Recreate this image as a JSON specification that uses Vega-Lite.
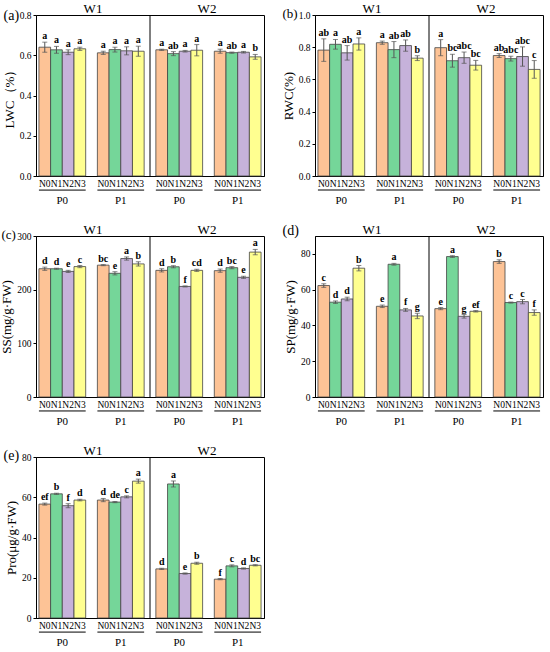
{
  "$schema": "https://vega.github.io/schema/vega-lite/v6.json",
  "padding": {"left": 0, "top": 1, "right": 4, "bottom": 4},
  "datasets": {
    "vals": [
      {"v": "LWC", "W": "W1", "P": "P0", "N": "N0", "m": 0.640, "sd": 0.025, "sig": "a"},
      {"v": "LWC", "W": "W1", "P": "P0", "N": "N1", "m": 0.627, "sd": 0.017, "sig": "a"},
      {"v": "LWC", "W": "W1", "P": "P0", "N": "N2", "m": 0.615, "sd": 0.012, "sig": "a"},
      {"v": "LWC", "W": "W1", "P": "P0", "N": "N3", "m": 0.632, "sd": 0.008, "sig": "a"},
      {"v": "LWC", "W": "W1", "P": "P1", "N": "N0", "m": 0.612, "sd": 0.008, "sig": "a"},
      {"v": "LWC", "W": "W1", "P": "P1", "N": "N1", "m": 0.628, "sd": 0.012, "sig": "a"},
      {"v": "LWC", "W": "W1", "P": "P1", "N": "N2", "m": 0.622, "sd": 0.020, "sig": "a"},
      {"v": "LWC", "W": "W1", "P": "P1", "N": "N3", "m": 0.620, "sd": 0.025, "sig": "a"},
      {"v": "LWC", "W": "W2", "P": "P0", "N": "N0", "m": 0.627, "sd": 0.003, "sig": "a"},
      {"v": "LWC", "W": "W2", "P": "P0", "N": "N1", "m": 0.608, "sd": 0.010, "sig": "ab"},
      {"v": "LWC", "W": "W2", "P": "P0", "N": "N2", "m": 0.620, "sd": 0.004, "sig": "a"},
      {"v": "LWC", "W": "W2", "P": "P0", "N": "N3", "m": 0.625, "sd": 0.028, "sig": "a"},
      {"v": "LWC", "W": "W2", "P": "P1", "N": "N0", "m": 0.620, "sd": 0.010, "sig": "a"},
      {"v": "LWC", "W": "W2", "P": "P1", "N": "N1", "m": 0.613, "sd": 0.003, "sig": "ab"},
      {"v": "LWC", "W": "W2", "P": "P1", "N": "N2", "m": 0.615, "sd": 0.004, "sig": "a"},
      {"v": "LWC", "W": "W2", "P": "P1", "N": "N3", "m": 0.592, "sd": 0.012, "sig": "b"},
      {"v": "RWC", "W": "W1", "P": "P0", "N": "N0", "m": 0.782, "sd": 0.070, "sig": "ab"},
      {"v": "RWC", "W": "W1", "P": "P0", "N": "N1", "m": 0.818, "sd": 0.030, "sig": "a"},
      {"v": "RWC", "W": "W1", "P": "P0", "N": "N2", "m": 0.765, "sd": 0.045, "sig": "ab"},
      {"v": "RWC", "W": "W1", "P": "P0", "N": "N3", "m": 0.820, "sd": 0.038, "sig": "a"},
      {"v": "RWC", "W": "W1", "P": "P1", "N": "N0", "m": 0.828, "sd": 0.010, "sig": "a"},
      {"v": "RWC", "W": "W1", "P": "P1", "N": "N1", "m": 0.785, "sd": 0.050, "sig": "ab"},
      {"v": "RWC", "W": "W1", "P": "P1", "N": "N2", "m": 0.810, "sd": 0.035, "sig": "ab"},
      {"v": "RWC", "W": "W1", "P": "P1", "N": "N3", "m": 0.732, "sd": 0.015, "sig": "b"},
      {"v": "RWC", "W": "W2", "P": "P0", "N": "N0", "m": 0.797, "sd": 0.050, "sig": "a"},
      {"v": "RWC", "W": "W2", "P": "P0", "N": "N1", "m": 0.716, "sd": 0.040, "sig": "bc"},
      {"v": "RWC", "W": "W2", "P": "P0", "N": "N2", "m": 0.735, "sd": 0.035, "sig": "abc"},
      {"v": "RWC", "W": "W2", "P": "P0", "N": "N3", "m": 0.688, "sd": 0.030, "sig": "bc"},
      {"v": "RWC", "W": "W2", "P": "P1", "N": "N0", "m": 0.748, "sd": 0.012, "sig": "ab"},
      {"v": "RWC", "W": "W2", "P": "P1", "N": "N1", "m": 0.729, "sd": 0.015, "sig": "abc"},
      {"v": "RWC", "W": "W2", "P": "P1", "N": "N2", "m": 0.742, "sd": 0.060, "sig": "abc"},
      {"v": "RWC", "W": "W2", "P": "P1", "N": "N3", "m": 0.662, "sd": 0.055, "sig": "c"},
      {"v": "SS", "W": "W1", "P": "P0", "N": "N0", "m": 239, "sd": 3, "sig": "d"},
      {"v": "SS", "W": "W1", "P": "P0", "N": "N1", "m": 239, "sd": 1, "sig": "d"},
      {"v": "SS", "W": "W1", "P": "P0", "N": "N2", "m": 234, "sd": 2, "sig": "e"},
      {"v": "SS", "W": "W1", "P": "P0", "N": "N3", "m": 243, "sd": 2, "sig": "c"},
      {"v": "SS", "W": "W1", "P": "P1", "N": "N0", "m": 245.7, "sd": 1, "sig": "bc"},
      {"v": "SS", "W": "W1", "P": "P1", "N": "N1", "m": 230.5, "sd": 3, "sig": "e"},
      {"v": "SS", "W": "W1", "P": "P1", "N": "N2", "m": 258, "sd": 3, "sig": "a"},
      {"v": "SS", "W": "W1", "P": "P1", "N": "N3", "m": 248, "sd": 4, "sig": "b"},
      {"v": "SS", "W": "W2", "P": "P0", "N": "N0", "m": 236, "sd": 3, "sig": "d"},
      {"v": "SS", "W": "W2", "P": "P0", "N": "N1", "m": 242.7, "sd": 2, "sig": "b"},
      {"v": "SS", "W": "W2", "P": "P0", "N": "N2", "m": 206, "sd": 1, "sig": "f"},
      {"v": "SS", "W": "W2", "P": "P0", "N": "N3", "m": 236, "sd": 2, "sig": "cd"},
      {"v": "SS", "W": "W2", "P": "P1", "N": "N0", "m": 235.4, "sd": 3, "sig": "d"},
      {"v": "SS", "W": "W2", "P": "P1", "N": "N1", "m": 241, "sd": 2, "sig": "bc"},
      {"v": "SS", "W": "W2", "P": "P1", "N": "N2", "m": 223, "sd": 2, "sig": "e"},
      {"v": "SS", "W": "W2", "P": "P1", "N": "N3", "m": 270, "sd": 5, "sig": "a"},
      {"v": "SP", "W": "W1", "P": "P0", "N": "N0", "m": 62.3, "sd": 1.0, "sig": "c"},
      {"v": "SP", "W": "W1", "P": "P0", "N": "N1", "m": 53.0, "sd": 0.7, "sig": "d"},
      {"v": "SP", "W": "W1", "P": "P0", "N": "N2", "m": 54.8, "sd": 1.0, "sig": "d"},
      {"v": "SP", "W": "W1", "P": "P0", "N": "N3", "m": 72.0, "sd": 1.5, "sig": "b"},
      {"v": "SP", "W": "W1", "P": "P1", "N": "N0", "m": 50.7, "sd": 0.7, "sig": "e"},
      {"v": "SP", "W": "W1", "P": "P1", "N": "N1", "m": 74.2, "sd": 0.5, "sig": "a"},
      {"v": "SP", "W": "W1", "P": "P1", "N": "N2", "m": 48.7, "sd": 0.8, "sig": "f"},
      {"v": "SP", "W": "W1", "P": "P1", "N": "N3", "m": 45.3, "sd": 1.5, "sig": "g"},
      {"v": "SP", "W": "W2", "P": "P0", "N": "N0", "m": 49.4, "sd": 0.6, "sig": "e"},
      {"v": "SP", "W": "W2", "P": "P0", "N": "N1", "m": 78.5, "sd": 0.5, "sig": "a"},
      {"v": "SP", "W": "W2", "P": "P0", "N": "N2", "m": 45.1, "sd": 1.0, "sig": "g"},
      {"v": "SP", "W": "W2", "P": "P0", "N": "N3", "m": 47.9, "sd": 0.4, "sig": "ef"},
      {"v": "SP", "W": "W2", "P": "P1", "N": "N0", "m": 75.7, "sd": 1.0, "sig": "b"},
      {"v": "SP", "W": "W2", "P": "P1", "N": "N1", "m": 52.8, "sd": 0.3, "sig": "c"},
      {"v": "SP", "W": "W2", "P": "P1", "N": "N2", "m": 53.3, "sd": 1.2, "sig": "c"},
      {"v": "SP", "W": "W2", "P": "P1", "N": "N3", "m": 47.2, "sd": 1.5, "sig": "f"},
      {"v": "Pro", "W": "W1", "P": "P0", "N": "N0", "m": 56.6, "sd": 0.5, "sig": "ef"},
      {"v": "Pro", "W": "W1", "P": "P0", "N": "N1", "m": 61.7, "sd": 0.3, "sig": "b"},
      {"v": "Pro", "W": "W1", "P": "P0", "N": "N2", "m": 55.8, "sd": 1.0, "sig": "f"},
      {"v": "Pro", "W": "W1", "P": "P0", "N": "N3", "m": 58.6, "sd": 0.4, "sig": "d"},
      {"v": "Pro", "W": "W1", "P": "P1", "N": "N0", "m": 58.6, "sd": 0.8, "sig": "d"},
      {"v": "Pro", "W": "W1", "P": "P1", "N": "N1", "m": 57.6, "sd": 0.3, "sig": "de"},
      {"v": "Pro", "W": "W1", "P": "P1", "N": "N2", "m": 60.2, "sd": 0.5, "sig": "c"},
      {"v": "Pro", "W": "W1", "P": "P1", "N": "N3", "m": 68.0, "sd": 1.0, "sig": "a"},
      {"v": "Pro", "W": "W2", "P": "P0", "N": "N0", "m": 24.4, "sd": 0.3, "sig": "d"},
      {"v": "Pro", "W": "W2", "P": "P0", "N": "N1", "m": 66.6, "sd": 1.5, "sig": "a"},
      {"v": "Pro", "W": "W2", "P": "P0", "N": "N2", "m": 22.1, "sd": 0.3, "sig": "e"},
      {"v": "Pro", "W": "W2", "P": "P0", "N": "N3", "m": 27.2, "sd": 0.5, "sig": "b"},
      {"v": "Pro", "W": "W2", "P": "P1", "N": "N0", "m": 19.3, "sd": 0.3, "sig": "f"},
      {"v": "Pro", "W": "W2", "P": "P1", "N": "N1", "m": 25.9, "sd": 0.5, "sig": "c"},
      {"v": "Pro", "W": "W2", "P": "P1", "N": "N2", "m": 24.6, "sd": 0.3, "sig": "d"},
      {"v": "Pro", "W": "W2", "P": "P1", "N": "N3", "m": 26.2, "sd": 0.3, "sig": "bc"}
    ],
    "grps": [
      {"W": "W1", "P": "P0"},
      {"W": "W1", "P": "P1"},
      {"W": "W2", "P": "P0"},
      {"W": "W2", "P": "P1"}
    ]
  },
  "columns": 2,
  "spacing": {"row": 60, "column": 51},
  "bounds": "flush",
  "concat": [
    {
      "width": 228, "height": 161,
      "layer": [
        {
          "data": {"name": "vals"},
          "transform": [
            {"filter": "datum.v == 'LWC'"},
            {"calculate": "datum.W + datum.P + datum.N", "as": "key"},
            {"calculate": "datum.m + datum.sd", "as": "top"}
          ],
          "encoding": {
            "x": {"field": "key", "type": "nominal", "title": null,
              "scale": {"domain": ["W1P0N0","W1P0N1","W1P0N2","W1P0N3","s1","W1P1N0","W1P1N1","W1P1N2","W1P1N3","s2","W2P0N0","W2P0N1","W2P0N2","W2P0N3","s3","W2P1N0","W2P1N1","W2P1N2","W2P1N3"], "paddingInner": 0, "paddingOuter": 0.25},
              "axis": {"orient": "bottom", "labelAngle": 0, "ticks": false, "labelOverlap": false, "labelFontSize": 9.5, "labelPadding": 2, "labelExpr": "length(datum.label) == 6 ? substring(datum.label, 4) : ''"}}
          },
          "layer": [
            {
              "mark": {"type": "bar", "stroke": "#444", "strokeWidth": 0.8},
              "encoding": {
                "y": {"field": "m", "type": "quantitative", "title": "LWC（%）", "scale": {"domain": [0, 0.8]},
                  "axis": {"values": [0, 0.2, 0.4, 0.6, 0.8], "format": ".1f", "labelOverlap": false, "tickSize": 3, "labelFontSize": 9.5, "titleFontSize": 13, "titlePadding": 3}},
                "color": {"field": "N", "type": "nominal", "legend": null,
                  "scale": {"domain": ["N0", "N1", "N2", "N3"], "range": ["#FDC396", "#75D699", "#C6B2DA", "#FFFF90"]}}
              }
            },
            {
              "mark": {"type": "errorbar", "color": "#555", "ticks": {"size": 5}},
              "encoding": {"y": {"field": "m", "type": "quantitative", "title": "LWC（%）"}, "yError": {"field": "sd"}}
            },
            {
              "mark": {"type": "text", "baseline": "bottom", "dy": -1, "fontWeight": "bold", "fontSize": 10},
              "encoding": {"y": {"field": "top", "type": "quantitative", "title": "LWC（%）"}, "text": {"field": "sig"}}
            }
          ]
        },
        {
          "data": {"name": "grps"},
          "transform": [{"calculate": "datum.W + datum.P", "as": "grp"}],
          "mark": {"type": "rule", "color": "black", "strokeWidth": 1},
          "encoding": {
            "x": {"field": "grp", "type": "nominal", "bandPosition": 0, "title": null,
              "scale": {"domain": ["W1P0", "W1P1", "W2P0", "W2P1"], "paddingInner": 0.2, "paddingOuter": 0.05},
              "axis": {"orient": "bottom", "labelAngle": 0, "ticks": false, "domain": false, "labelFontSize": 11, "labelPadding": 18, "labelExpr": "substring(datum.label, 2)"}},
            "x2": {"field": "grp", "bandPosition": 1},
            "y": {"datum": -0.07, "type": "quantitative", "title": "LWC（%）"}
          }
        },
        {
          "data": {"name": "grps"},
          "transform": [{"filter": "datum.W == 'W2' && datum.P == 'P0'"}],
          "mark": {"type": "rule", "color": "black", "strokeWidth": 1},
          "encoding": {
            "x": {"field": "W", "type": "nominal", "bandPosition": 0, "title": "(a)",
              "scale": {"domain": ["W1", "W2"], "paddingInner": 0, "paddingOuter": 0},
              "axis": {"orient": "top", "labelAngle": 0, "ticks": false, "domain": false, "labelFontSize": 13, "labelPadding": 0, "titleFontSize": 14, "titleX": -33, "titleY": 0, "titleAlign": "left", "titleBaseline": "middle", "titleAngle": 0}}
          }
        }
      ],
      "resolve": {"scale": {"x": "independent"}, "axis": {"x": "independent"}}
    },
    {
      "width": 228, "height": 161,
      "layer": [
        {
          "data": {"name": "vals"},
          "transform": [
            {"filter": "datum.v == 'RWC'"},
            {"calculate": "datum.W + datum.P + datum.N", "as": "key"},
            {"calculate": "datum.m + datum.sd", "as": "top"}
          ],
          "encoding": {
            "x": {"field": "key", "type": "nominal", "title": null,
              "scale": {"domain": ["W1P0N0","W1P0N1","W1P0N2","W1P0N3","s1","W1P1N0","W1P1N1","W1P1N2","W1P1N3","s2","W2P0N0","W2P0N1","W2P0N2","W2P0N3","s3","W2P1N0","W2P1N1","W2P1N2","W2P1N3"], "paddingInner": 0, "paddingOuter": 0.25},
              "axis": {"orient": "bottom", "labelAngle": 0, "ticks": false, "labelOverlap": false, "labelFontSize": 9.5, "labelPadding": 2, "labelExpr": "length(datum.label) == 6 ? substring(datum.label, 4) : ''"}}
          },
          "layer": [
            {
              "mark": {"type": "bar", "stroke": "#444", "strokeWidth": 0.8},
              "encoding": {
                "y": {"field": "m", "type": "quantitative", "title": "RWC(%)", "scale": {"domain": [0, 1], "nice": false},
                  "axis": {"tickCount": 5, "format": ".1f", "labelOverlap": false, "tickSize": 3, "labelFontSize": 9.5, "titleFontSize": 13, "titlePadding": 3}},
                "color": {"field": "N", "type": "nominal", "legend": null,
                  "scale": {"domain": ["N0", "N1", "N2", "N3"], "range": ["#FDC396", "#75D699", "#C6B2DA", "#FFFF90"]}}
              }
            },
            {
              "mark": {"type": "errorbar", "color": "#555", "ticks": {"size": 5}},
              "encoding": {"y": {"field": "m", "type": "quantitative", "title": "RWC(%)"}, "yError": {"field": "sd"}}
            },
            {
              "mark": {"type": "text", "baseline": "bottom", "dy": -1, "fontWeight": "bold", "fontSize": 10},
              "encoding": {"y": {"field": "top", "type": "quantitative", "title": "RWC(%)"}, "text": {"field": "sig"}}
            }
          ]
        },
        {
          "data": {"name": "grps"},
          "transform": [{"calculate": "datum.W + datum.P", "as": "grp"}],
          "mark": {"type": "rule", "color": "black", "strokeWidth": 1},
          "encoding": {
            "x": {"field": "grp", "type": "nominal", "bandPosition": 0, "title": null,
              "scale": {"domain": ["W1P0", "W1P1", "W2P0", "W2P1"], "paddingInner": 0.2, "paddingOuter": 0.05},
              "axis": {"orient": "bottom", "labelAngle": 0, "ticks": false, "domain": false, "labelFontSize": 11, "labelPadding": 18, "labelExpr": "substring(datum.label, 2)"}},
            "x2": {"field": "grp", "bandPosition": 1},
            "y": {"datum": -0.087, "type": "quantitative", "title": "RWC(%)"}
          }
        },
        {
          "data": {"name": "grps"},
          "transform": [{"filter": "datum.W == 'W2' && datum.P == 'P0'"}],
          "mark": {"type": "rule", "color": "black", "strokeWidth": 1},
          "encoding": {
            "x": {"field": "W", "type": "nominal", "bandPosition": 0, "title": "(b)",
              "scale": {"domain": ["W1", "W2"], "paddingInner": 0, "paddingOuter": 0},
              "axis": {"orient": "top", "labelAngle": 0, "ticks": false, "domain": false, "labelFontSize": 13, "labelPadding": 0, "titleFontSize": 13, "titleX": -33, "titleY": -2, "titleAlign": "left", "titleBaseline": "middle", "titleAngle": 0}}
          }
        }
      ],
      "resolve": {"scale": {"x": "independent"}, "axis": {"x": "independent"}}
    },
    {
      "width": 228, "height": 161,
      "layer": [
        {
          "data": {"name": "vals"},
          "transform": [
            {"filter": "datum.v == 'SS'"},
            {"calculate": "datum.W + datum.P + datum.N", "as": "key"},
            {"calculate": "datum.m + datum.sd", "as": "top"}
          ],
          "encoding": {
            "x": {"field": "key", "type": "nominal", "title": null,
              "scale": {"domain": ["W1P0N0","W1P0N1","W1P0N2","W1P0N3","s1","W1P1N0","W1P1N1","W1P1N2","W1P1N3","s2","W2P0N0","W2P0N1","W2P0N2","W2P0N3","s3","W2P1N0","W2P1N1","W2P1N2","W2P1N3"], "paddingInner": 0, "paddingOuter": 0.25},
              "axis": {"orient": "bottom", "labelAngle": 0, "ticks": false, "labelOverlap": false, "labelFontSize": 9.5, "labelPadding": 2, "labelExpr": "length(datum.label) == 6 ? substring(datum.label, 4) : ''"}}
          },
          "layer": [
            {
              "mark": {"type": "bar", "stroke": "#444", "strokeWidth": 0.8},
              "encoding": {
                "y": {"field": "m", "type": "quantitative", "title": "SS(mg/g·FW)", "scale": {"domain": [0, 300]},
                  "axis": {"values": [0, 100, 200, 300], "format": "d", "labelOverlap": false, "tickSize": 3, "labelFontSize": 9.5, "titleFontSize": 13, "titlePadding": 3}},
                "color": {"field": "N", "type": "nominal", "legend": null,
                  "scale": {"domain": ["N0", "N1", "N2", "N3"], "range": ["#FDC396", "#75D699", "#C6B2DA", "#FFFF90"]}}
              }
            },
            {
              "mark": {"type": "errorbar", "color": "#555", "ticks": {"size": 5}},
              "encoding": {"y": {"field": "m", "type": "quantitative", "title": "SS(mg/g·FW)"}, "yError": {"field": "sd"}}
            },
            {
              "mark": {"type": "text", "baseline": "bottom", "dy": -1, "fontWeight": "bold", "fontSize": 10},
              "encoding": {"y": {"field": "top", "type": "quantitative", "title": "SS(mg/g·FW)"}, "text": {"field": "sig"}}
            }
          ]
        },
        {
          "data": {"name": "grps"},
          "transform": [{"calculate": "datum.W + datum.P", "as": "grp"}],
          "mark": {"type": "rule", "color": "black", "strokeWidth": 1},
          "encoding": {
            "x": {"field": "grp", "type": "nominal", "bandPosition": 0, "title": null,
              "scale": {"domain": ["W1P0", "W1P1", "W2P0", "W2P1"], "paddingInner": 0.2, "paddingOuter": 0.05},
              "axis": {"orient": "bottom", "labelAngle": 0, "ticks": false, "domain": false, "labelFontSize": 11, "labelPadding": 18, "labelExpr": "substring(datum.label, 2)"}},
            "x2": {"field": "grp", "bandPosition": 1},
            "y": {"datum": -26, "type": "quantitative", "title": "SS(mg/g·FW)"}
          }
        },
        {
          "data": {"name": "grps"},
          "transform": [{"filter": "datum.W == 'W2' && datum.P == 'P0'"}],
          "mark": {"type": "rule", "color": "black", "strokeWidth": 1},
          "encoding": {
            "x": {"field": "W", "type": "nominal", "bandPosition": 0, "title": "(c)",
              "scale": {"domain": ["W1", "W2"], "paddingInner": 0, "paddingOuter": 0},
              "axis": {"orient": "top", "labelAngle": 0, "ticks": false, "domain": false, "labelFontSize": 13, "labelPadding": 0, "titleFontSize": 13, "titleX": -35, "titleY": -2, "titleAlign": "left", "titleBaseline": "middle", "titleAngle": 0}}
          }
        }
      ],
      "resolve": {"scale": {"x": "independent"}, "axis": {"x": "independent"}}
    },
    {
      "width": 228, "height": 161,
      "layer": [
        {
          "data": {"name": "vals"},
          "transform": [
            {"filter": "datum.v == 'SP'"},
            {"calculate": "datum.W + datum.P + datum.N", "as": "key"},
            {"calculate": "datum.m + datum.sd", "as": "top"}
          ],
          "encoding": {
            "x": {"field": "key", "type": "nominal", "title": null,
              "scale": {"domain": ["W1P0N0","W1P0N1","W1P0N2","W1P0N3","s1","W1P1N0","W1P1N1","W1P1N2","W1P1N3","s2","W2P0N0","W2P0N1","W2P0N2","W2P0N3","s3","W2P1N0","W2P1N1","W2P1N2","W2P1N3"], "paddingInner": 0, "paddingOuter": 0.25},
              "axis": {"orient": "bottom", "labelAngle": 0, "ticks": false, "labelOverlap": false, "labelFontSize": 9.5, "labelPadding": 2, "labelExpr": "length(datum.label) == 6 ? substring(datum.label, 4) : ''"}}
          },
          "layer": [
            {
              "mark": {"type": "bar", "stroke": "#444", "strokeWidth": 0.8},
              "encoding": {
                "y": {"field": "m", "type": "quantitative", "title": "SP(mg/g·FW)", "scale": {"domain": [0, 90]},
                  "axis": {"values": [0, 20, 40, 60, 80], "format": "d", "labelOverlap": false, "tickSize": 3, "labelFontSize": 9.5, "titleFontSize": 13, "titlePadding": 3}},
                "color": {"field": "N", "type": "nominal", "legend": null,
                  "scale": {"domain": ["N0", "N1", "N2", "N3"], "range": ["#FDC396", "#75D699", "#C6B2DA", "#FFFF90"]}}
              }
            },
            {
              "mark": {"type": "errorbar", "color": "#555", "ticks": {"size": 5}},
              "encoding": {"y": {"field": "m", "type": "quantitative", "title": "SP(mg/g·FW)"}, "yError": {"field": "sd"}}
            },
            {
              "mark": {"type": "text", "baseline": "bottom", "dy": -1, "fontWeight": "bold", "fontSize": 10},
              "encoding": {"y": {"field": "top", "type": "quantitative", "title": "SP(mg/g·FW)"}, "text": {"field": "sig"}}
            }
          ]
        },
        {
          "data": {"name": "grps"},
          "transform": [{"calculate": "datum.W + datum.P", "as": "grp"}],
          "mark": {"type": "rule", "color": "black", "strokeWidth": 1},
          "encoding": {
            "x": {"field": "grp", "type": "nominal", "bandPosition": 0, "title": null,
              "scale": {"domain": ["W1P0", "W1P1", "W2P0", "W2P1"], "paddingInner": 0.2, "paddingOuter": 0.05},
              "axis": {"orient": "bottom", "labelAngle": 0, "ticks": false, "domain": false, "labelFontSize": 11, "labelPadding": 18, "labelExpr": "substring(datum.label, 2)"}},
            "x2": {"field": "grp", "bandPosition": 1},
            "y": {"datum": -7.8, "type": "quantitative", "title": "SP(mg/g·FW)"}
          }
        },
        {
          "data": {"name": "grps"},
          "transform": [{"filter": "datum.W == 'W2' && datum.P == 'P0'"}],
          "mark": {"type": "rule", "color": "black", "strokeWidth": 1},
          "encoding": {
            "x": {"field": "W", "type": "nominal", "bandPosition": 0, "title": "(d)",
              "scale": {"domain": ["W1", "W2"], "paddingInner": 0, "paddingOuter": 0},
              "axis": {"orient": "top", "labelAngle": 0, "ticks": false, "domain": false, "labelFontSize": 13, "labelPadding": 0, "titleFontSize": 14, "titleX": -33, "titleY": -6, "titleAlign": "left", "titleBaseline": "middle", "titleAngle": 0}}
          }
        }
      ],
      "resolve": {"scale": {"x": "independent"}, "axis": {"x": "independent"}}
    },
    {
      "width": 228, "height": 161,
      "layer": [
        {
          "data": {"name": "vals"},
          "transform": [
            {"filter": "datum.v == 'Pro'"},
            {"calculate": "datum.W + datum.P + datum.N", "as": "key"},
            {"calculate": "datum.m + datum.sd", "as": "top"}
          ],
          "encoding": {
            "x": {"field": "key", "type": "nominal", "title": null,
              "scale": {"domain": ["W1P0N0","W1P0N1","W1P0N2","W1P0N3","s1","W1P1N0","W1P1N1","W1P1N2","W1P1N3","s2","W2P0N0","W2P0N1","W2P0N2","W2P0N3","s3","W2P1N0","W2P1N1","W2P1N2","W2P1N3"], "paddingInner": 0, "paddingOuter": 0.25},
              "axis": {"orient": "bottom", "labelAngle": 0, "ticks": false, "labelOverlap": false, "labelFontSize": 9.5, "labelPadding": 2, "labelExpr": "length(datum.label) == 6 ? substring(datum.label, 4) : ''"}}
          },
          "layer": [
            {
              "mark": {"type": "bar", "stroke": "#444", "strokeWidth": 0.8},
              "encoding": {
                "y": {"field": "m", "type": "quantitative", "title": "Pro(μg/g·FW)", "scale": {"domain": [0, 80]},
                  "axis": {"values": [0, 20, 40, 60, 80], "format": "d", "labelOverlap": false, "tickSize": 3, "labelFontSize": 9.5, "titleFontSize": 13, "titlePadding": 3}},
                "color": {"field": "N", "type": "nominal", "legend": null,
                  "scale": {"domain": ["N0", "N1", "N2", "N3"], "range": ["#FDC396", "#75D699", "#C6B2DA", "#FFFF90"]}}
              }
            },
            {
              "mark": {"type": "errorbar", "color": "#555", "ticks": {"size": 5}},
              "encoding": {"y": {"field": "m", "type": "quantitative", "title": "Pro(μg/g·FW)"}, "yError": {"field": "sd"}}
            },
            {
              "mark": {"type": "text", "baseline": "bottom", "dy": -1, "fontWeight": "bold", "fontSize": 10},
              "encoding": {"y": {"field": "top", "type": "quantitative", "title": "Pro(μg/g·FW)"}, "text": {"field": "sig"}}
            }
          ]
        },
        {
          "data": {"name": "grps"},
          "transform": [{"calculate": "datum.W + datum.P", "as": "grp"}],
          "mark": {"type": "rule", "color": "black", "strokeWidth": 1},
          "encoding": {
            "x": {"field": "grp", "type": "nominal", "bandPosition": 0, "title": null,
              "scale": {"domain": ["W1P0", "W1P1", "W2P0", "W2P1"], "paddingInner": 0.2, "paddingOuter": 0.05},
              "axis": {"orient": "bottom", "labelAngle": 0, "ticks": false, "domain": false, "labelFontSize": 11, "labelPadding": 18, "labelExpr": "substring(datum.label, 2)"}},
            "x2": {"field": "grp", "bandPosition": 1},
            "y": {"datum": -7, "type": "quantitative", "title": "Pro(μg/g·FW)"}
          }
        },
        {
          "data": {"name": "grps"},
          "transform": [{"filter": "datum.W == 'W2' && datum.P == 'P0'"}],
          "mark": {"type": "rule", "color": "black", "strokeWidth": 1},
          "encoding": {
            "x": {"field": "W", "type": "nominal", "bandPosition": 0, "title": "(e)",
              "scale": {"domain": ["W1", "W2"], "paddingInner": 0, "paddingOuter": 0},
              "axis": {"orient": "top", "labelAngle": 0, "ticks": false, "domain": false, "labelFontSize": 13, "labelPadding": 0, "titleFontSize": 14, "titleX": -33, "titleY": -2, "titleAlign": "left", "titleBaseline": "middle", "titleAngle": 0}}
          }
        }
      ],
      "resolve": {"scale": {"x": "independent"}, "axis": {"x": "independent"}}
    }
  ],
  "config": {
    "font": "Liberation Serif",
    "background": "#ffffff",
    "view": {"stroke": "#000000", "strokeWidth": 1},
    "axis": {"grid": false, "domainColor": "#000000", "tickColor": "#000000", "labelColor": "#000000", "titleColor": "#000000", "titleFontWeight": "normal"}
  }
}
